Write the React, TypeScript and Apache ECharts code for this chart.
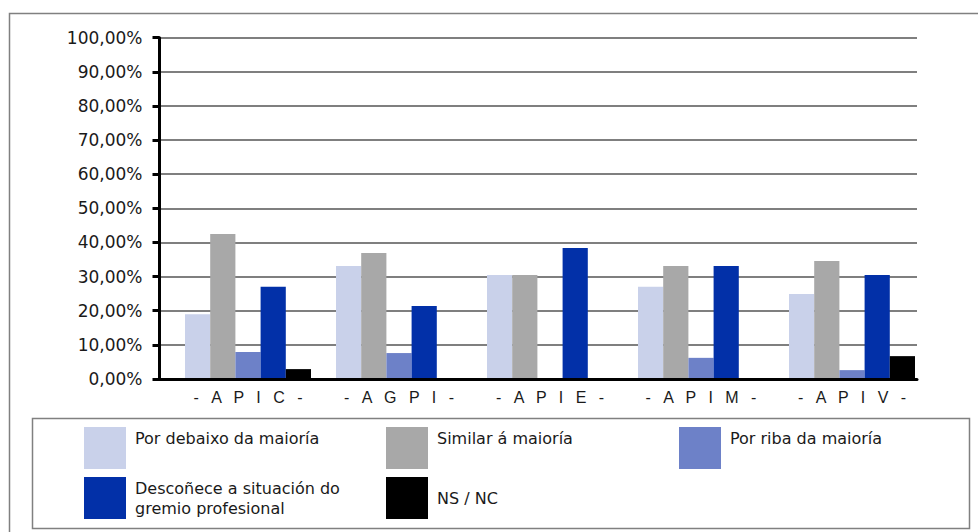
import React, { useEffect, useRef } from "react";
import * as echarts from "echarts";

const categories = ["APIC", "AGPI", "APIE", "APIM", "APIV"];
const seriesNames = [
  "Por debaixo da maioría",
  "Similar á maioría",
  "Por riba da maioría",
  "Descoñece a situación do gremio profesional",
  "NS / NC",
];
const porDebaixo = [19.0, 33.1, 30.5, 27.0, 24.9];
const similar = [42.5, 36.9, 30.5, 33.1, 34.6];
const porRiba = [7.9, 7.6, 0, 6.2, 2.6];
const descoñece = [27.0, 21.4, 38.4, 33.1, 30.5];
const nsnc = [2.9, 0, 0, 0, 6.7];
const seriesColors = ["#C9D1EA", "#A8A8A8", "#6D81C8", "#0230A8", "#000000"];
const yTicks = [0, 10, 20, 30, 40, 50, 60, 70, 80, 90, 100];

export default function App() {
  const ref = useRef<HTMLDivElement>(null);
  useEffect(() => {
    if (!ref.current) return;
    const chart = echarts.init(ref.current, null, { renderer: "svg" });
    const values = [porDebaixo, similar, porRiba, descoñece, nsnc];
    const sep = " \u2002";
    const catLabel = (c: string) => ["-", ...c.split(""), "-"].join(sep);
    const legendPos = [
      { left: 84, top: 427 },
      { left: 386, top: 427 },
      { left: 679, top: 427 },
      { left: 84, top: 477 },
      { left: 386, top: 477 },
    ];
    const legendFormat = [
      (n: string) => n + "\n ",
      (n: string) => n + "\n ",
      (n: string) => n + "\n ",
      () => "Descoñece a situación do\ngremio profesional",
      (n: string) => n,
    ];
    const option: any = {
      animation: false,
      grid: [
        { left: 159.5, right: 61, top: 37.7, bottom: 532 - 379 },
        { left: 172.5, width: 755, top: 37.7, bottom: 532 - 379 },
      ],
      xAxis: [
        {
          gridIndex: 0,
          type: "value",
          min: 0,
          max: 1,
          z: 10,
          axisLine: { show: true, lineStyle: { color: "#000", width: 3 } },
          axisTick: { show: false },
          axisLabel: { show: false },
          splitLine: { show: false },
        },
        {
          gridIndex: 1,
          type: "category",
          data: categories,
          axisLine: { show: false },
          axisTick: { show: false },
          axisLabel: {
            formatter: (v: string) => catLabel(v),
            fontFamily: "Liberation Sans",
            fontSize: 16,
            color: "#1a1a1a",
            margin: 10,
          },
        },
      ],
      yAxis: [
        {
          gridIndex: 0,
          type: "value",
          min: yTicks[0],
          max: yTicks[yTicks.length - 1],
          interval: 10,
          axisLine: { show: true, lineStyle: { color: "#000", width: 3 } },
          axisTick: { show: true, length: 7, lineStyle: { color: "#000", width: 3 } },
          axisLabel: {
            formatter: (v: number) => v.toFixed(2).replace(".", ",") + "%",
            fontFamily: "DejaVu Sans",
            fontSize: 17,
            color: "#1a1a1a",
            margin: 17,
          },
          splitLine: { show: true, lineStyle: { color: "#555", width: 1.5 } },
        },
        {
          gridIndex: 1,
          type: "value",
          min: 0,
          max: 100,
          show: false,
        },
      ],
      legend: seriesNames.map((n, i) => ({
        data: [n],
        left: legendPos[i].left,
        top: legendPos[i].top,
        padding: 0,
        itemWidth: 42,
        itemHeight: 42,
        icon: "rect",
        selectedMode: false,
        formatter: legendFormat[i],
        textStyle: {
          fontFamily: "DejaVu Sans",
          fontSize: 16,
          color: "#1a1a1a",
          lineHeight: 20,
          padding: [0, 0, 0, 4],
        },
      })),
      series: seriesNames.map((n, i) => ({
        name: n,
        type: "bar",
        xAxisIndex: 1,
        yAxisIndex: 1,
        data: values[i],
        barWidth: 25.2,
        barGap: "0%",
        itemStyle: { color: seriesColors[i] },
      })),
      graphic: [
        {
          type: "rect",
          shape: { x: 9.5, y: 13.5, width: 1000, height: 540 },
          style: { fill: "none", stroke: "#808080", lineWidth: 1.5 },
          silent: true,
        },
        {
          type: "rect",
          shape: { x: 32.5, y: 418.5, width: 937, height: 110 },
          style: { fill: "none", stroke: "#808080", lineWidth: 1.5 },
          silent: true,
        },
      ],
    };
    chart.setOption(option);
    return () => chart.dispose();
  }, []);
  return (
    <div
      ref={ref}
      style={{ position: "fixed", left: 0, top: 0, width: 978, height: 532, background: "#fff" }}
    />
  );
}
